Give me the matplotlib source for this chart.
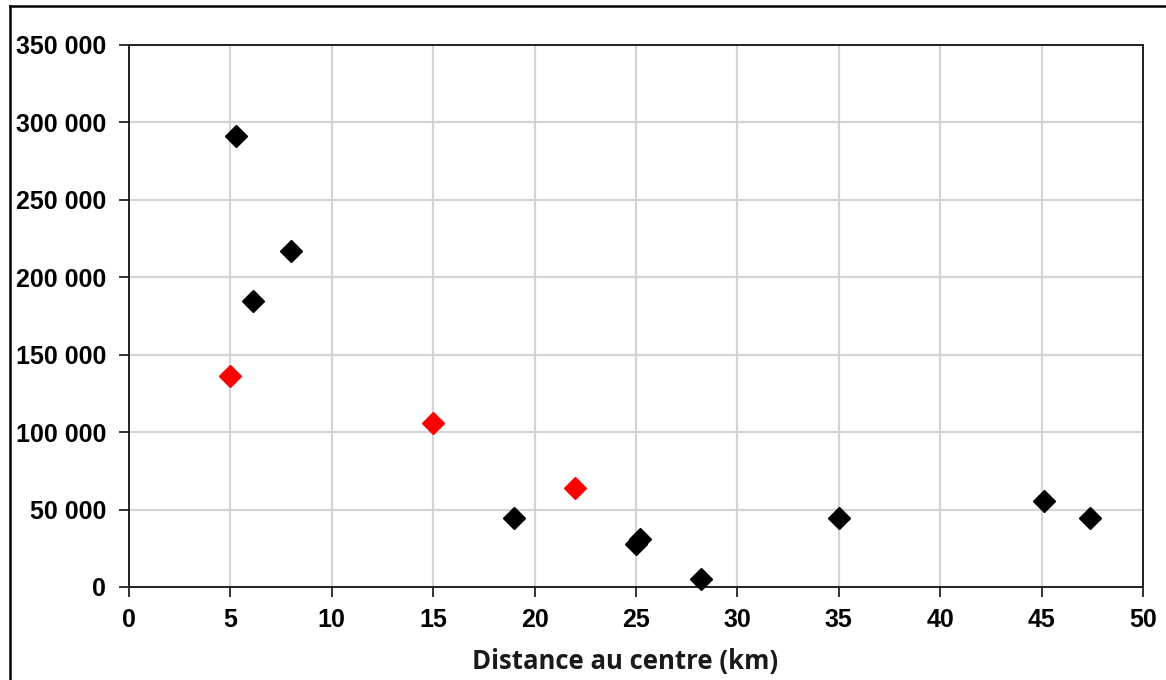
import matplotlib
matplotlib.use("Agg")
import matplotlib.pyplot as plt
from matplotlib.lines import Line2D
from matplotlib.ticker import FuncFormatter, MultipleLocator

# Distance to the centre (km) and value for each site
black_x = [5.3, 6.1, 8.0, 19.0, 25.0, 25.2, 28.2, 35.0, 45.1, 47.4]
black_y = [291000, 185000, 217000, 44500, 28000, 31000, 5000, 44500, 55500, 44500]
red_x = [5.0, 15.0, 22.0]
red_y = [136000, 106000, 64000]

x_label = "Distance au centre (km)"

fig = plt.figure(figsize=(11.66, 6.80), dpi=100)
ax = fig.add_axes([129 / 1166, 1 - 587 / 680, (1143 - 129) / 1166, (587 - 45) / 680])

ax.set_xlim(0, 50)
ax.set_ylim(0, 350000)
ax.xaxis.set_major_locator(MultipleLocator(5))
ax.yaxis.set_major_locator(MultipleLocator(50000))
ax.yaxis.set_major_formatter(FuncFormatter(lambda v, p: f"{int(v):,}".replace(",", " ")))

ax.grid(True, color="#d4d4d4", linewidth=1.6, zorder=0)
ax.set_axisbelow(True)
for s in ax.spines.values():
    s.set_color("#222222")
    s.set_linewidth(1.4)

ax.tick_params(direction="out", length=7, width=1.3, color="#222222")
ax.tick_params(axis="y", pad=9.5)
ax.tick_params(axis="x", pad=8)
for lab in ax.get_xticklabels() + ax.get_yticklabels():
    lab.set_fontfamily("Liberation Sans")
    lab.set_fontweight("bold")
    lab.set_fontsize(18)

ax.plot(black_x, black_y, linestyle="none", marker="D", markersize=11.5,
        color="black", zorder=3, clip_on=False)
ax.plot(red_x, red_y, linestyle="none", marker="D", markersize=11.5,
        color="#ff0000", zorder=3, clip_on=False)

ax.set_xlabel(x_label, fontfamily="Open Sans", fontweight="bold", fontsize=18.5,
              labelpad=12, color="#1a1a1a")
ax.xaxis.label.set_x(0.489)

# outer frame of the chart area
fig.add_artist(Line2D([10 / 1166, 10 / 1166], [0, 1 - 6 / 680],
                      transform=fig.transFigure, color="black", linewidth=1.8))
fig.add_artist(Line2D([10 / 1166, 1], [1 - 6 / 680, 1 - 6 / 680],
                      transform=fig.transFigure, color="black", linewidth=1.8))

fig.savefig("out.png", dpi=100)
